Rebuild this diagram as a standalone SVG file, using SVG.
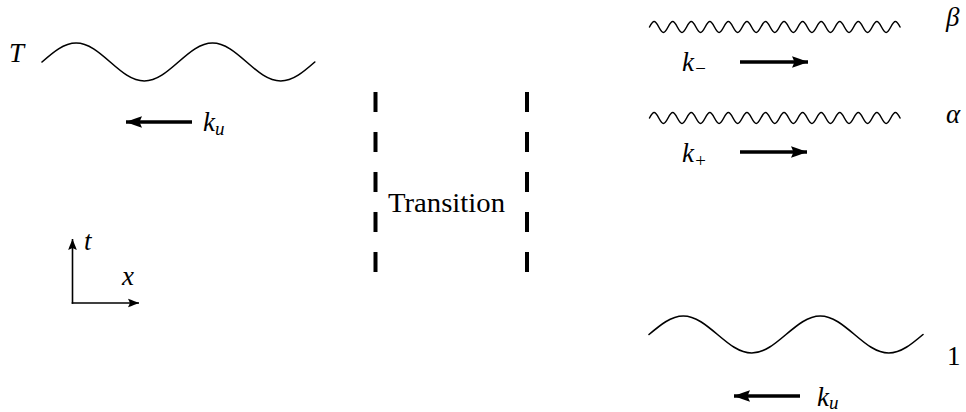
<svg xmlns="http://www.w3.org/2000/svg" xmlns:xlink="http://www.w3.org/1999/xlink" width="966" height="412" viewBox="0 0 966 412">
<style>
.wave{fill:none;stroke:#000;stroke-width:1.6;stroke-linecap:round}
.kar{fill:none;stroke:#000;stroke-width:3.5}
.ax{fill:none;stroke:#000;stroke-width:1.6}
.dash{fill:none;stroke:#000;stroke-width:4;stroke-dasharray:20 20}
.m{font-family:'Liberation Serif','DejaVu Serif',serif;font-style:italic;font-size:27px;fill:#000}
.sub{font-size:19px}
.rm{font-family:'Liberation Serif','DejaVu Serif',serif;font-size:27px;fill:#000}
</style>
<defs>
<marker id="big" markerUnits="userSpaceOnUse" markerWidth="20" markerHeight="14" refX="0" refY="0" viewBox="-17 -7 20 14" orient="auto">
<path d="M0,0 C-4,-1.6 -10,-4 -16,-5.8 L-13.5,0 L-16,5.8 C-10,4 -4,1.6 0,0Z" fill="#000"/>
</marker>
<marker id="small" markerUnits="userSpaceOnUse" markerWidth="14" markerHeight="10" refX="0" refY="0" viewBox="-12 -5 14 10" orient="auto">
<path d="M0,0 C-3,-1.2 -7,-3 -11,-4.3 L-9,0 L-11,4.3 C-7,3 -3,1.2 0,0Z" fill="#000"/>
</marker>
<path id="fast" d="M649.5,27 c1.51,-2.82 2.96,-5.5 4.64,-5.5 s3.13,2.68 4.64,5.5 s2.96,5.5 4.64,5.5 s3.13,-2.68 4.64,-5.5 s2.96,-5.5 4.64,-5.5 s3.13,2.68 4.64,5.5 s2.96,5.5 4.64,5.5 s3.13,-2.68 4.64,-5.5 s2.96,-5.5 4.64,-5.5 s3.13,2.68 4.64,5.5 s2.96,5.5 4.64,5.5 s3.13,-2.68 4.64,-5.5 s2.96,-5.5 4.64,-5.5 s3.13,2.68 4.64,5.5 s2.96,5.5 4.64,5.5 s3.13,-2.68 4.64,-5.5 s2.96,-5.5 4.64,-5.5 s3.13,2.68 4.64,5.5 s2.96,5.5 4.64,5.5 s3.13,-2.68 4.64,-5.5 s2.96,-5.5 4.64,-5.5 s3.13,2.68 4.64,5.5 s2.96,5.5 4.64,5.5 s3.13,-2.68 4.64,-5.5 s2.96,-5.5 4.64,-5.5 s3.13,2.68 4.64,5.5 s2.96,5.5 4.64,5.5 s3.13,-2.68 4.64,-5.5 s2.96,-5.5 4.64,-5.5 s3.13,2.68 4.64,5.5 s2.96,5.5 4.64,5.5 s3.13,-2.68 4.64,-5.5 s2.96,-5.5 4.64,-5.5 s3.13,2.68 4.64,5.5 s2.96,5.5 4.64,5.5 s3.13,-2.68 4.64,-5.5 s2.96,-5.5 4.64,-5.5 s3.13,2.68 4.64,5.5 s2.96,5.5 4.64,5.5 s3.13,-2.68 4.64,-5.5 s2.96,-5.5 4.64,-5.5 s3.13,2.68 4.64,5.5 s2.96,5.5 4.64,5.5 s3.13,-2.68 4.64,-5.5 s2.96,-5.5 4.64,-5.5 s3.13,2.68 4.64,5.5 s2.96,5.5 4.64,5.5 s3.13,-2.68 4.64,-5.5 s2.96,-5.5 4.64,-5.5 s3.13,2.68 4.64,5.5 s2.96,5.5 4.64,5.5 s3.13,-2.68 4.64,-5.5 s2.96,-5.5 4.64,-5.5 s3.13,2.68 4.64,5.5"/>
</defs>

<g id="wave-T">
<path class="wave" d="M42,62 c11.12,-9.73 21.76,-19 34.1,-19 s22.98,9.27 34.1,19 s21.76,19 34.1,19 s22.98,-9.27 34.1,-19 s21.76,-19 34.1,-19 s22.98,9.27 34.1,19 s21.76,19 34.1,19 s22.98,-9.27 34.1,-19"/>
<text class="m" x="9" y="62">T</text>
</g>

<g id="wave-beta">
<use xlink:href="#fast" href="#fast" class="wave" style="stroke-width:1.5"/>
<text class="m" x="946" y="26">β</text>
</g>

<g id="wave-alpha">
<use xlink:href="#fast" href="#fast" class="wave" style="stroke-width:1.5" transform="translate(0,91)"/>
<text class="m" x="946" y="123">α</text>
</g>

<g id="wave-1">
<path class="wave" d="M649,334.5 c11.17,-9.48 21.85,-18.5 34.25,-18.5 s23.08,9.02 34.25,18.5 s21.85,18.5 34.25,18.5 s23.08,-9.02 34.25,-18.5 s21.85,-18.5 34.25,-18.5 s23.08,9.02 34.25,18.5 s21.85,18.5 34.25,18.5 s23.08,-9.02 34.25,-18.5"/>
<text class="rm" x="947" y="365">1</text>
</g>

<g id="transition">
<line class="dash" x1="375.5" y1="92" x2="375.5" y2="273"/>
<line class="dash" x1="527" y1="92" x2="527" y2="273"/>
<text class="rm" x="388" y="212" textLength="117" lengthAdjust="spacingAndGlyphs">Transition</text>
</g>

<g id="axes">
<line class="ax" x1="72.5" y1="303.8" x2="72.5" y2="239" marker-end="url(#small)"/>
<line class="ax" x1="71.7" y1="303" x2="139" y2="303" marker-end="url(#small)"/>
<text class="m" x="84" y="250">t</text>
<text class="m" x="122" y="285">x</text>
</g>

<g id="connectors">
<line class="kar" x1="192" y1="122" x2="126" y2="122" marker-end="url(#big)"/>
<line class="kar" x1="740" y1="62" x2="808" y2="62" marker-end="url(#big)"/>
<line class="kar" x1="740" y1="152" x2="807" y2="152" marker-end="url(#big)"/>
<line class="kar" x1="800" y1="396" x2="734" y2="396" marker-end="url(#big)"/>
</g>

<g id="labels">
<text class="m" x="203" y="131">k<tspan class="sub" dy="4">u</tspan></text>
<text class="m" x="682" y="71">k<tspan class="sub" dy="4">−</tspan></text>
<text class="m" x="682" y="162">k<tspan class="sub" dy="5">+</tspan></text>
<text class="m" x="817" y="406">k<tspan class="sub" dy="3">u</tspan></text>
</g>
</svg>
